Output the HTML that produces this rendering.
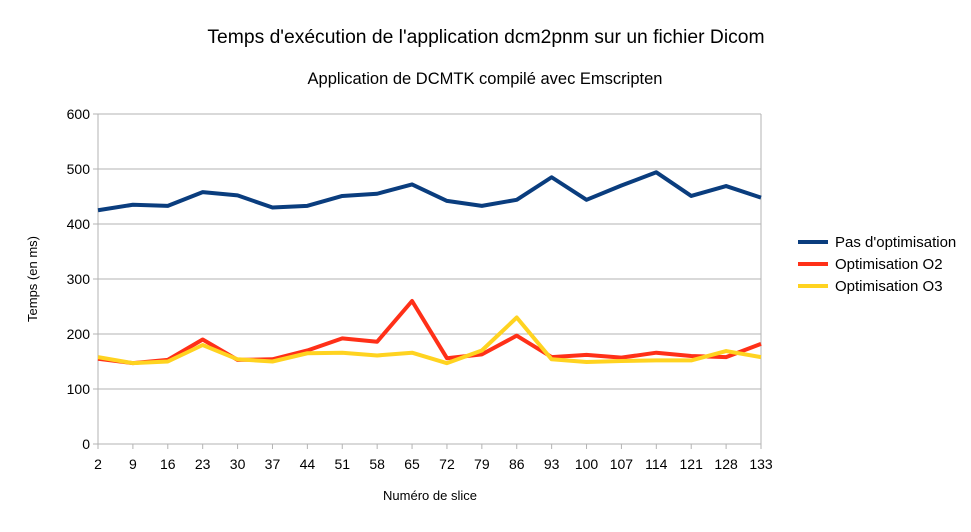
<!DOCTYPE html>
<html><head><meta charset="utf-8"><style>
body{margin:0;background:#fff;font-family:"Liberation Sans",sans-serif;}
svg text{font-family:"Liberation Sans",sans-serif;fill:#000;}
</style></head><body>
<svg id="c" width="971" height="527">
<text x="486" y="43" font-size="19.3" text-anchor="middle">Temps d'exécution de l'application dcm2pnm sur un fichier Dicom</text>
<text x="485" y="84" font-size="16.5" text-anchor="middle">Application de DCMTK compilé avec Emscripten</text>
<text x="37" y="279" font-size="13" text-anchor="middle" transform="rotate(-90 37 279)">Temps (en ms)</text>
<text x="430" y="500" font-size="13" text-anchor="middle">Numéro de slice</text>
<g id="grid"></g><g id="series"></g><g id="legend"></g>
</svg>
<script>
const categories=[2,9,16,23,30,37,44,51,58,65,72,79,86,93,100,107,114,121,128,133];
const yTicks=[0,100,200,300,400,500,600];
const seriesNames=["Pas d'optimisation","Optimisation O2","Optimisation O3"];
const seriesColors=["#0a3d7e","#ff3018","#ffd320"];
const noOpt=[425,435,433,458,452,430,433,451,455,472,442,433,444,485,444,470,494,451,469,448];
const o2=[155,147,153,190,153,154,170,192,186,260,156,163,197,158,162,157,166,160,158,182];
const o3=[158,147,150,180,154,150,165,166,161,166,147,170,230,154,149,151,152,152,169,158];
const allSeries=[noOpt,o2,o3];
const X0=98,X1=761,Y0=444,Y1=114;
const xs=i=>X0+i*(X1-X0)/(categories.length-1);
const ys=v=>Y0-(v/600)*(Y0-Y1);
const NS="http://www.w3.org/2000/svg";
const mk=(t,a,p)=>{const e=document.createElementNS(NS,t);for(const k in a)e.setAttribute(k,a[k]);p.appendChild(e);return e;};
const g=document.getElementById('grid');
yTicks.forEach(v=>{
 const l=mk('line',{x1:X0-5,x2:X1,y1:ys(v),y2:ys(v),stroke:'#b3b3b3','stroke-width':1},g);
 
 
 const t=mk('text',{x:X0-8,y:ys(v)+5,'font-size':14,'text-anchor':'end'},g);t.textContent=v;
 
 
});
const ax=mk('line',{x1:X0,x2:X0,y1:Y1,y2:Y0+5,stroke:'#b3b3b3'},g);


const ax2=mk('line',{x1:X1,x2:X1,y1:Y1,y2:Y0+5,stroke:'#b3b3b3'},g);


categories.forEach((c,i)=>{
 const tk=mk('line',{x1:xs(i),x2:xs(i),y1:Y0,y2:Y0+5,stroke:'#b3b3b3'},g);
 
 
 const t=mk('text',{x:xs(i),y:Y0+25,'font-size':14,'text-anchor':'middle'},g);t.textContent=c;
 
 
});
const s=document.getElementById('series');
allSeries.forEach((d,k)=>{
 const p=mk('polyline',{points:d.map((v,i)=>xs(i)+','+ys(v)).join(' '),fill:'none',stroke:seriesColors[k],'stroke-width':4,'stroke-linejoin':'round'},s);
 
 
});
const lg=document.getElementById('legend');
seriesNames.forEach((n,k)=>{
 const y=242+k*22;
 const l=mk('line',{x1:798,x2:828,y1:y,y2:y,stroke:seriesColors[k],'stroke-width':4},lg);
 
 
 const t=mk('text',{x:835,y:y+5,'font-size':15},lg);t.textContent=n;
 
 
});
</script>
</body></html>
